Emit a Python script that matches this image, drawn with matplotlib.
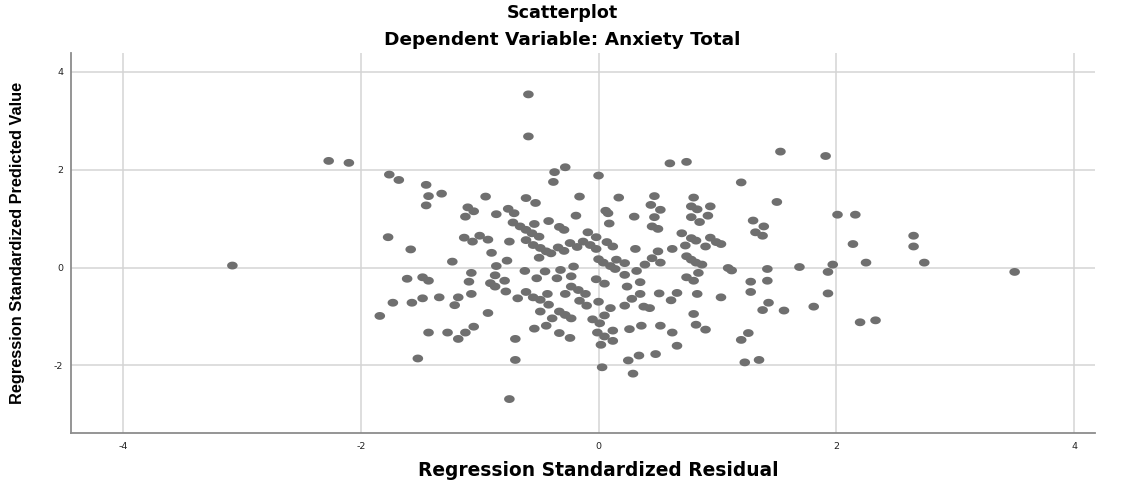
import matplotlib
matplotlib.use("Agg")
import matplotlib.pyplot as plt
import numpy as np
from matplotlib.path import Path

plt.rcParams['font.family'] = ['DejaVu Sans']
plt.rcParams['axes.unicode_minus'] = False

title_main = "Scatterplot"
title_sub = "Dependent Variable: Anxiety Total"
x_label = "Regression Standardized Residual"
y_label = "Regression Standardized Predicted Value"
x_ticks = [-4, -2, 0, 2, 4]
y_ticks = [-2, 0, 2, 4]

points = [
    (-3.08, 0.04), (-2.27, 2.18), (-2.10, 2.14), (-1.76, 1.90), (-1.77, 0.62), (-1.73, -0.72), (-1.84, -0.99),
    (-1.68, 1.79), (-1.45, 1.69), (-1.43, 1.46), (-1.32, 1.51), (-1.45, 1.27), (-0.95, 1.45), (-1.10, 1.23),
    (-1.05, 1.15), (-1.12, 1.04), (-0.86, 1.09), (-1.13, 0.61), (-1.06, 0.53), (-1.00, 0.65), (-0.93, 0.57),
    (-1.58, 0.37), (-0.90, 0.30), (-1.23, 0.12), (-0.86, 0.03),
    (-1.61, -0.23), (-1.48, -0.20), (-1.43, -0.27), (-1.07, -0.11), (-1.09, -0.29), (-1.07, -0.54),
    (-1.57, -0.72), (-1.48, -0.63), (-1.34, -0.61), (-1.18, -0.61), (-1.21, -0.77), (-0.93, -0.93),
    (-1.43, -1.33), (-1.27, -1.33), (-1.12, -1.33), (-1.05, -1.21), (-1.18, -1.46), (-1.52, -1.86),
    (-0.59, 3.54), (-0.59, 2.68), (-0.37, 1.95), (-0.28, 2.05), (-0.38, 1.75), (0.00, 1.88), (-0.61, 1.42),
    (-0.53, 1.32), (-0.16, 1.45), (0.17, 1.43), (-0.76, 1.20), (-0.71, 1.11), (-0.19, 1.06), (0.06, 1.16),
    (0.08, 1.11), (0.30, 1.04), (0.09, 0.90), (-0.72, 0.92), (-0.66, 0.84), (-0.61, 0.77), (-0.54, 0.89),
    (-0.42, 0.95), (-0.33, 0.83), (-0.29, 0.77), (-0.56, 0.70), (-0.50, 0.63), (-0.09, 0.72), (-0.02, 0.62),
    (-0.75, 0.53), (-0.61, 0.56), (-0.55, 0.46), (-0.49, 0.40), (-0.44, 0.33), (-0.40, 0.29), (-0.34, 0.41),
    (-0.29, 0.34), (-0.24, 0.50), (-0.18, 0.42), (-0.13, 0.53), (-0.07, 0.46), (-0.02, 0.38), (0.07, 0.52),
    (0.12, 0.43), (0.31, 0.38), (-0.50, 0.20), (-0.77, 0.14), (0.00, 0.17), (0.04, 0.10), (0.10, 0.03),
    (-0.21, 0.02), (0.15, 0.16), (0.22, 0.09), (0.39, 0.06),
    (-0.62, -0.07), (-0.45, -0.08), (-0.32, -0.05), (0.14, -0.03), (0.32, -0.07), (-0.87, -0.16),
    (-0.79, -0.27), (-0.52, -0.22), (-0.35, -0.22), (-0.23, -0.18), (-0.02, -0.24), (0.05, -0.33),
    (0.22, -0.15), (0.35, -0.30), (-0.91, -0.32), (-0.87, -0.39), (-0.78, -0.49), (-0.61, -0.50),
    (-0.55, -0.61), (-0.49, -0.66), (-0.43, -0.54), (-0.42, -0.76), (-0.28, -0.54), (-0.23, -0.39),
    (-0.17, -0.46), (-0.11, -0.54), (-0.16, -0.68), (-0.10, -0.78), (0.00, -0.70), (0.24, -0.39),
    (0.35, -0.54), (0.28, -0.64), (0.22, -0.78), (0.38, -0.80), (0.10, -0.83), (-0.68, -0.63),
    (-0.49, -0.90), (-0.39, -1.04), (-0.33, -0.90), (-0.28, -0.97), (-0.23, -1.04), (-0.54, -1.25),
    (-0.44, -1.19), (-0.33, -1.34), (-0.24, -1.44), (-0.05, -1.06), (0.01, -1.14), (0.05, -0.98),
    (-0.01, -1.33), (0.05, -1.41), (0.12, -1.50), (0.12, -1.29), (0.02, -1.58), (0.26, -1.26),
    (0.36, -1.19), (-0.70, -1.46), (-0.70, -1.89), (0.34, -1.80), (0.25, -1.90), (0.03, -2.04),
    (0.29, -2.17), (-0.75, -2.69),
    (0.60, 2.13), (0.74, 2.16), (1.53, 2.37), (1.20, 1.74), (0.47, 1.46), (0.80, 1.43), (1.50, 1.34),
    (0.44, 1.28), (0.52, 1.18), (0.78, 1.25), (0.83, 1.19), (0.94, 1.25), (0.47, 1.03), (0.78, 1.03),
    (0.85, 0.93), (0.92, 1.06), (1.30, 0.96), (1.39, 0.84), (1.32, 0.72), (1.38, 0.65), (0.45, 0.84),
    (0.50, 0.79), (0.70, 0.70), (0.78, 0.60), (0.82, 0.55), (0.94, 0.61), (0.99, 0.52), (1.03, 0.48),
    (0.73, 0.45), (0.90, 0.43), (0.62, 0.38), (0.50, 0.33), (0.45, 0.19), (0.52, 0.10), (0.74, 0.23),
    (0.78, 0.16), (0.82, 0.10), (0.87, 0.06), (1.09, -0.01), (1.42, -0.03), (1.69, 0.01),
    (1.12, -0.06), (0.84, -0.11), (0.74, -0.20), (0.80, -0.27), (1.28, -0.29), (1.42, -0.27),
    (0.51, -0.53), (0.66, -0.52), (0.61, -0.67), (0.83, -0.54), (1.03, -0.61), (1.28, -0.50),
    (1.43, -0.72), (1.38, -0.87), (1.56, -0.88), (0.43, -0.83), (0.52, -1.19), (0.62, -1.33),
    (0.80, -0.95), (0.82, -1.17), (0.90, -1.27), (0.66, -1.60), (0.48, -1.77), (1.26, -1.34),
    (1.20, -1.48), (1.23, -1.94), (1.35, -1.89),
    (1.91, 2.28), (2.01, 1.08), (2.16, 1.08), (2.14, 0.48), (2.65, 0.65), (2.65, 0.43), (2.25, 0.10),
    (2.74, 0.10), (1.97, 0.06), (1.93, -0.09), (1.93, -0.53), (1.81, -0.80), (2.20, -1.12),
    (2.33, -1.08), (3.50, -0.09),
]
residual = [p[0] for p in points]
predicted = [p[1] for p in points]

W, H = 1124, 491
fig = plt.figure(figsize=(W / 100, H / 100), dpi=100)
ax = fig.add_axes([70.7 / W, 1 - 433.3 / H, (1095 - 70.7) / W, (433.3 - 53.3) / H])

# ellipse marker (slightly wider than tall)
t = np.linspace(0, 2 * np.pi, 60)
verts = np.column_stack([1.35 * np.cos(t), np.sin(t)])
ell = Path(verts, closed=True)

ax.scatter(residual, predicted, marker=ell, s=58, color='#6f6f6f', edgecolors='none', zorder=3)

ax.set_xlim(-4.44, 4.176)
ax.set_ylim(-3.39, 4.38)
ax.set_xticks(x_ticks)
ax.set_yticks(y_ticks)
ax.grid(True, color='#d4d4d4', linewidth=1.1, zorder=0)
ax.set_axisbelow(True)
for s in ['top', 'right']:
    ax.spines[s].set_visible(False)
for s in ['left', 'bottom']:
    ax.spines[s].set_color('#8c8c8c')
    ax.spines[s].set_linewidth(1.3)
ax.tick_params(length=0, labelsize=6.8, colors='#222222')
ax.tick_params(axis='x', pad=6.5)
ax.tick_params(axis='y', pad=5.5)

fig.text(0.5, 1 - 12.5 / H, title_main, ha='center', va='center', fontsize=12.6, fontweight='bold')
fig.text(0.5, 1 - 40 / H, title_sub, ha='center', va='center', fontsize=13.3, fontweight='bold')
fig.text(598.7 / W, 1 - 470 / H, x_label, ha='center', va='center', fontsize=13.4, fontweight='bold')
fig.text(18 / W, 1 - 243 / H, y_label, ha='center', va='center', rotation=90, fontsize=11.8,
         fontweight='bold', family=['Liberation Sans', 'DejaVu Sans'])

fig.savefig('out.png', dpi=100, facecolor='white')
